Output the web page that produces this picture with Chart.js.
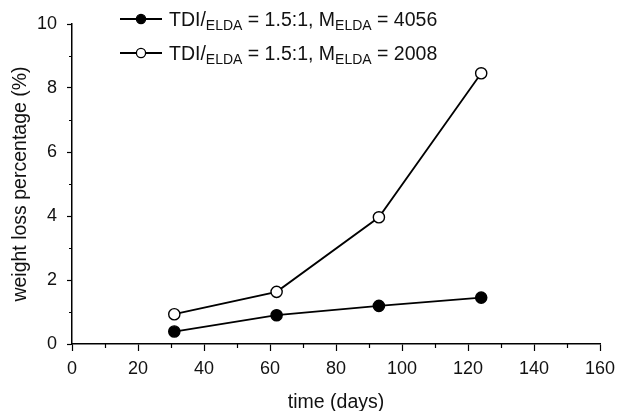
<!DOCTYPE html>
<html>
<head>
<meta charset="utf-8">
<title>Weight loss over time</title>
<script src="https://cdn.jsdelivr.net/npm/chart.js@4.4.1/dist/chart.umd.min.js"></script>
<style>
  html, body { margin: 0; padding: 0; background: #fff; }
  canvas { display: block; }
</style>
</head>
<body>
<canvas id="lossChart" width="618" height="411"></canvas>
<script>
// Sample data: degradation time and weight loss of the two formulations
const days = [31, 62, 93, 124];
const loss4056 = [0.39, 0.9, 1.19, 1.45];
const loss2008 = [0.93, 1.63, 3.96, 8.46];

const xTicks = { min: 0, max: 160, step: 20 };
const yTicks = { min: 0, max: 10, step: 2 };

// Legend text, split so the ELDA parts can be drawn as subscripts
const legendParts = [
  [['TDI/', false], ['ELDA', true], [' = 1.5:1, M', false], ['ELDA', true], [' = 4056', false]],
  [['TDI/', false], ['ELDA', true], [' = 1.5:1, M', false], ['ELDA', true], [' = 2008', false]],
];

const FONT = '"Liberation Sans", Arial, sans-serif';
const INK = '#111';

function toPoints(xs, ys) {
  return xs.map((x, i) => ({ x: x, y: ys[i] }));
}

// Minor tick marks halfway between the labelled ticks
const minorTicks = {
  id: 'minorTicks',
  afterDraw(chart) {
    const ctx = chart.ctx;
    const xs = chart.scales.x;
    const ys = chart.scales.y;
    const area = chart.chartArea;
    ctx.save();
    ctx.strokeStyle = '#000';
    ctx.lineWidth = 1.2;
    ctx.beginPath();
    for (let v = xTicks.min + xTicks.step / 2; v < xTicks.max; v += xTicks.step) {
      const px = Math.round(xs.getPixelForValue(v)) + 0.5;
      ctx.moveTo(px, area.bottom);
      ctx.lineTo(px, area.bottom + 4);
    }
    for (let v = yTicks.min + yTicks.step / 2; v < yTicks.max; v += yTicks.step) {
      const py = Math.round(ys.getPixelForValue(v)) + 0.5;
      ctx.moveTo(area.left, py);
      ctx.lineTo(area.left - 3, py);
    }
    ctx.stroke();
    ctx.restore();
  },
};

// Legend with subscripts, drawn in the top left of the plot
const subLegend = {
  id: 'subLegend',
  afterDraw(chart) {
    const ctx = chart.ctx;
    const rows = [19, 53];
    const lineStart = 120, lineEnd = 162, markX = 141, textX = 169;
    ctx.save();
    chart.data.datasets.forEach((ds, i) => {
      const y = rows[i];
      ctx.strokeStyle = ds.borderColor;
      ctx.lineWidth = 1.8;
      ctx.beginPath();
      ctx.moveTo(lineStart, y);
      ctx.lineTo(lineEnd, y);
      ctx.stroke();

      ctx.beginPath();
      ctx.arc(markX, y, 4.6, 0, Math.PI * 2);
      ctx.fillStyle = ds.pointBackgroundColor;
      ctx.fill();
      ctx.lineWidth = 1.3;
      ctx.strokeStyle = ds.pointBorderColor;
      ctx.stroke();

      let x = textX;
      ctx.fillStyle = INK;
      ctx.textBaseline = 'alphabetic';
      legendParts[i].forEach(([text, sub]) => {
        ctx.font = (sub ? '14px ' : '19.5px ') + FONT;
        ctx.fillText(text, x, y + (sub ? 11 : 7));
        x += ctx.measureText(text).width;
      });
    });
    ctx.restore();
  },
};

const ctx = document.getElementById('lossChart').getContext('2d');
window.lossChart = new Chart(ctx, {
  type: 'line',
  data: {
    datasets: [
      {
        label: 'TDI/ELDA = 1.5:1, MELDA = 4056',
        data: toPoints(days, loss4056),
        borderColor: '#000',
        borderWidth: 1.8,
        pointRadius: 5.6,
        pointBorderWidth: 1.4,
        pointBackgroundColor: '#000',
        pointBorderColor: '#000',
        tension: 0,
      },
      {
        label: 'TDI/ELDA = 1.5:1, MELDA = 2008',
        data: toPoints(days, loss2008),
        borderColor: '#000',
        borderWidth: 1.8,
        pointRadius: 5.6,
        pointBorderWidth: 1.4,
        pointBackgroundColor: '#fff',
        pointBorderColor: '#000',
        tension: 0,
      },
    ],
  },
  options: {
    responsive: false,
    animation: false,
    devicePixelRatio: 1,
    clip: false,
    layout: { padding: { left: 0, top: 24, right: 18, bottom: 0 } },
    plugins: {
      legend: { display: false },
      tooltip: { enabled: false },
    },
    scales: {
      x: {
        type: 'linear',
        min: xTicks.min,
        max: xTicks.max,
        afterFit: (scale) => {
          scale.height = 67;
          scale.paddingLeft = 0;
          scale.paddingRight = 0;
        },
        ticks: {
          stepSize: xTicks.step,
          color: INK,
          padding: 7,
          maxRotation: 0,
          font: { family: FONT, size: 18 },
        },
        grid: {
          drawOnChartArea: false,
          tickLength: 7,
          tickColor: '#000',
          tickWidth: 1.2,
        },
        border: { color: '#000', width: 1.5 },
        title: {
          display: true,
          text: 'time (days)',
          color: INK,
          padding: { top: 0, bottom: 0 },
          font: { family: FONT, size: 19.5, lineHeight: 0.85 },
        },
      },
      y: {
        type: 'linear',
        min: yTicks.min,
        max: yTicks.max,
        afterFit: (scale) => {
          scale.width = 72;
          scale.paddingTop = 0;
          scale.paddingBottom = 0;
        },
        ticks: {
          stepSize: yTicks.step,
          color: INK,
          padding: 10,
          font: { family: FONT, size: 18 },
        },
        grid: {
          drawOnChartArea: false,
          tickLength: 5,
          tickColor: '#000',
          tickWidth: 1.2,
        },
        border: { color: '#000', width: 1.5 },
        title: {
          display: true,
          text: 'weight loss percentage (%)',
          color: INK,
          padding: { top: 10, bottom: 0 },
          font: { family: FONT, size: 19.5, lineHeight: 1.1 },
        },
      },
    },
  },
  plugins: [minorTicks, subLegend],
});
</script>
</body>
</html>
